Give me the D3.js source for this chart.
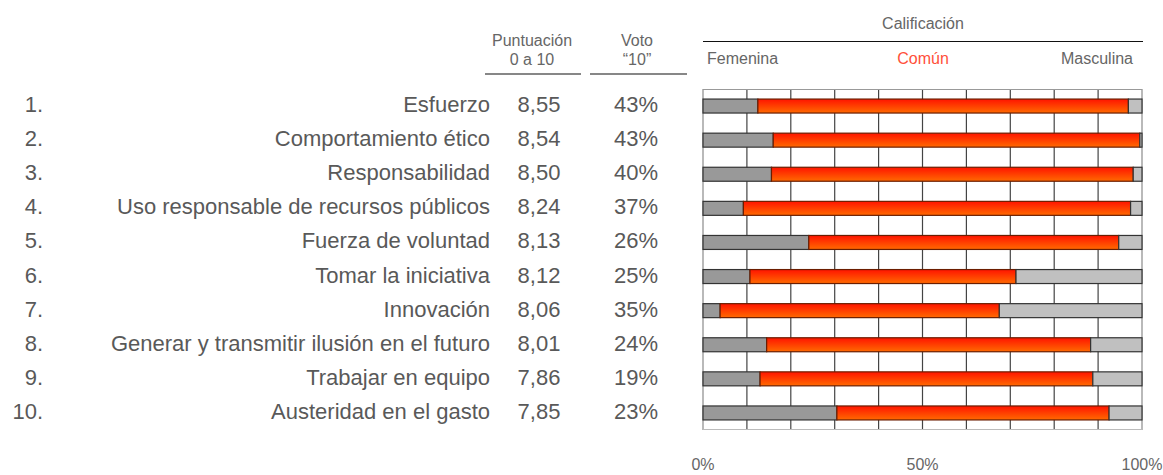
<!DOCTYPE html>
<html>
<head>
<meta charset="utf-8">
<script src="https://cdn.jsdelivr.net/npm/d3@7"></script>
<style>
  body { margin:0; background:#fff; }
  text { font-family: Arial, "Liberation Sans", sans-serif; }
  .rotulo { fill:#595959; font-size:22px; }
  .cabecera { fill:#666; font-size:16px; }
</style>
</head>
<body>
<div id="grafico"></div>
<script>
// datos
var rangos = ["1.","2.","3.","4.","5.","6.","7.","8.","9.","10."];
var atributos = ["Esfuerzo","Comportamiento ético","Responsabilidad",
  "Uso responsable de recursos públicos","Fuerza de voluntad","Tomar la iniciativa",
  "Innovación","Generar y transmitir ilusión en el futuro","Trabajar en equipo",
  "Austeridad en el gasto"];
var puntuacion = ["8,55","8,54","8,50","8,24","8,13","8,12","8,06","8,01","7,86","7,85"];
var voto10 = ["43%","43%","40%","37%","26%","25%","35%","24%","19%","23%"];
var femenina  = [12.5, 16.0, 15.6,  9.2, 24.1, 10.7,  3.9, 14.5, 13.0, 30.5];
var comun     = [84.4, 83.5, 82.4, 88.2, 70.6, 60.6, 63.6, 73.8, 75.8, 62.0];
var masculina = [ 3.1,  0.5,  2.0,  2.6,  5.3, 28.7, 32.5, 11.7, 11.2,  7.5];
var ticksPct = [0, 50, 100];

var W = 1163, H = 475;
var svg = d3.select("#grafico").append("svg")
  .attr("width", W).attr("height", H);

var defs = svg.append("defs");
var grad = defs.append("linearGradient").attr("id","gradComun")
  .attr("x1",0).attr("y1",0).attr("x2",0).attr("y2",1);
grad.append("stop").attr("offset","0%").attr("stop-color","#ff1400");
grad.append("stop").attr("offset","100%").attr("stop-color","#ff6a00");

var x = d3.scaleLinear().domain([0,100]).range([703,1142]);
var y = d3.scaleBand().domain(d3.range(10)).range([89,430]).paddingInner(0.59).paddingOuter(0.295);
var yc = function(i){ return y(i) + y.bandwidth()/2; };

/* cabeceras */
var cab = svg.append("g").attr("class","cabecera");
cab.append("text").attr("x",532).attr("y",46).attr("text-anchor","middle").text("Puntuación");
cab.append("text").attr("x",532).attr("y",65).attr("text-anchor","middle").text("0 a 10");
cab.append("text").attr("x",637).attr("y",46).attr("text-anchor","middle").text("Voto");
cab.append("text").attr("x",637).attr("y",65).attr("text-anchor","middle").text("\u201C10\u201D");
svg.append("line").attr("x1",485).attr("x2",581).attr("y1",74).attr("y2",74).attr("stroke","#111").attr("stroke-width",1.2);
svg.append("line").attr("x1",590).attr("x2",687).attr("y1",74).attr("y2",74).attr("stroke","#111").attr("stroke-width",1.2);

cab.append("text").attr("x",923).attr("y",29).attr("text-anchor","middle").text("Calificación");
svg.append("line").attr("x1",703).attr("x2",1143).attr("y1",41.5).attr("y2",41.5).attr("stroke","#111").attr("stroke-width",1.2);
cab.append("text").attr("x",707).attr("y",64).text("Femenina");
cab.append("text").attr("x",923).attr("y",64).attr("text-anchor","middle").style("fill","#ff4f3a").text("Común");
cab.append("text").attr("x",1133).attr("y",64).attr("text-anchor","end").text("Masculina");

/* filas de texto */
var filas = svg.append("g");
filas.selectAll(".rango").data(rangos).enter().append("text")
  .attr("class","rotulo").attr("x",43).attr("y",function(d,i){return yc(i)+6;})
  .attr("text-anchor","end").text(function(d){return d;});
filas.selectAll(".atrib").data(atributos).enter().append("text")
  .attr("class","rotulo").attr("x",490).attr("y",function(d,i){return yc(i)+6;})
  .attr("text-anchor","end").text(function(d){return d;});
filas.selectAll(".punt").data(puntuacion).enter().append("text")
  .attr("class","rotulo").attr("x",539).attr("y",function(d,i){return yc(i)+6;})
  .attr("text-anchor","middle").text(function(d){return d;});
filas.selectAll(".voto").data(voto10).enter().append("text")
  .attr("class","rotulo").attr("x",636).attr("y",function(d,i){return yc(i)+6;})
  .attr("text-anchor","middle").text(function(d){return d;});

/* rejilla */
var rej = svg.append("g");
rej.selectAll("line").data(d3.range(0,101,10)).enter().append("line")
  .attr("x1",function(d){return x(d);}).attr("x2",function(d){return x(d);})
  .attr("y1",89).attr("y2",430)
  .attr("stroke",function(d){return (d==0||d==100)?"#8a8a8a":"#444";})
  .attr("stroke-width",1.2);
rej.append("line").attr("x1",x(0)).attr("x2",x(100)).attr("y1",89.5).attr("y2",89.5).attr("stroke","#999");
rej.append("line").attr("x1",x(0)).attr("x2",x(100)).attr("y1",429.5).attr("y2",429.5).attr("stroke","#bbb");

/* barras apiladas */
var datos = d3.range(10).map(function(i){
  return {i:i, fem:femenina[i], com:comun[i], mas:masculina[i]};
});
var pila = d3.stack().keys(["fem","com","mas"])(datos);
var colores = {fem:"#999999", com:"url(#gradComun)", mas:"#c0c0c0"};
var bordes = {fem:"#333", com:"#6b1d00", mas:"#333"};

svg.selectAll(".serie").data(pila).enter().append("g")
  .attr("class","serie")
  .each(function(s){
    d3.select(this).selectAll("rect").data(s).enter().append("rect")
      .attr("x",function(d){return x(d[0]);})
      .attr("width",function(d){return Math.max(0,x(d[1])-x(d[0]));})
      .attr("y",function(d){return y(d.data.i);})
      .attr("height",y.bandwidth())
      .attr("fill",colores[s.key])
      .attr("stroke",bordes[s.key])
      .attr("stroke-width",1.2);
  });

/* eje porcentajes */
svg.selectAll(".tickPct").data(ticksPct).enter().append("text")
  .attr("class","cabecera")
  .attr("x",function(d){return x(d);}).attr("y",470)
  .attr("text-anchor","middle").text(function(d){return d+"%";});
</script>
</body>
</html>
